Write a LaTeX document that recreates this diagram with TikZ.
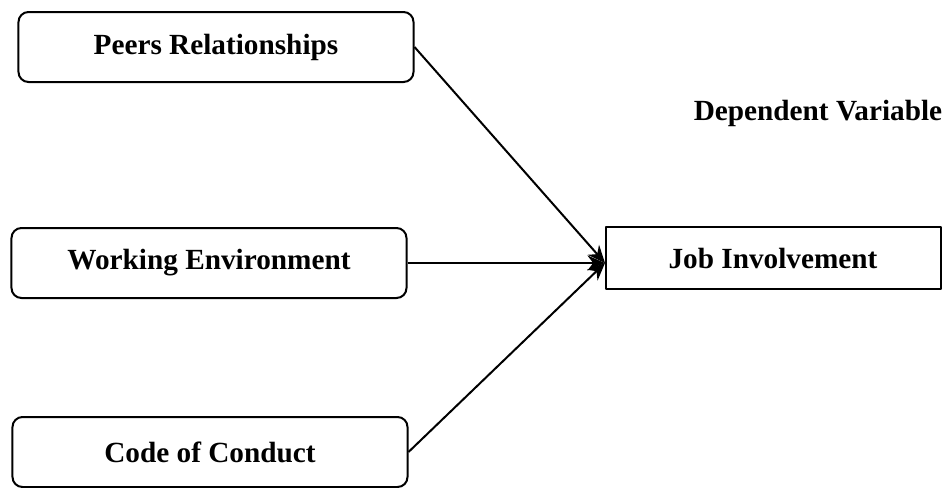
\documentclass[tikz,border=0pt]{standalone}
\usepackage{fontspec}
\setmainfont{Liberation Serif}
\usetikzlibrary{arrows.meta}
\begin{document}
\begin{tikzpicture}[x=0.4pt, y=-0.4pt, line join=round, >={Stealth[length=7pt,width=6pt]},
	font=\fontsize{11.7}{14}\selectfont\bfseries,
	ivbox/.style={draw, line width=0.8pt, rounded corners=4pt, minimum width=158pt, minimum height=28pt, inner sep=0pt},
	dvbox/.style={draw, line width=0.8pt, minimum width=134pt, minimum height=24.5pt, inner sep=0pt},
	link/.style={->, line width=0.8pt}]
	\useasboundingbox (0,0) rectangle (946,487);
	\path
	(216,47) coordinate (P)
	(209,263) coordinate (W)
	(210,452) coordinate (C)
	(773,258) coordinate (J)
	(605,263) coordinate (hub)
	;
	\node[ivbox] (peers) at (P) {Peers Relationships};
	\node[ivbox] (work) at (W) {Working Environment};
	\node[ivbox] (code) at (C) {Code of Conduct};
	\node[dvbox] (job) at (J) {Job Involvement};
	\node (dep) at (818,113) {Dependent Variable};
	
	\draw[link] (peers.east) -- (hub);
	\draw[link] (work.east) -- (hub);
	\draw[link] (code.east) -- (hub);
\end{tikzpicture}
\end{document}
